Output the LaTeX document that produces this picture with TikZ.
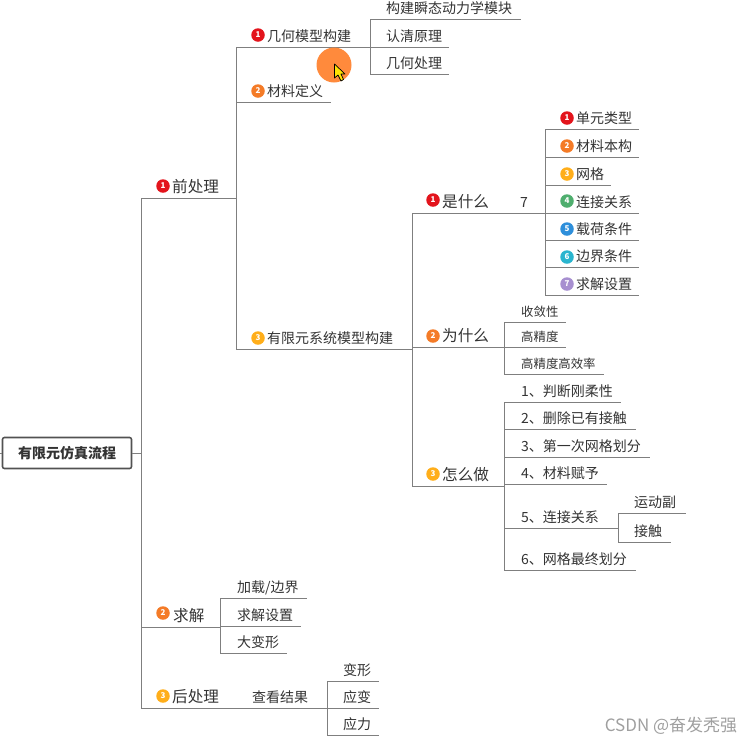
\documentclass[tikz,border=0pt]{standalone}
\usepackage{fontspec}
\setmainfont{Noto Sans CJK SC}
\usepackage{xcolor}
\usetikzlibrary{positioning}
\definecolor{MarkRed}{HTML}{e3141c}
\definecolor{MarkOrange}{HTML}{f47b27}
\definecolor{MarkYellow}{HTML}{ffae1a}
\definecolor{MarkGreen}{HTML}{4fae6e}
\definecolor{MarkBlue}{HTML}{2e8fdb}
\definecolor{MarkCyan}{HTML}{2ab5cf}
\definecolor{MarkPurple}{HTML}{a78fd0}
\definecolor{LineGray}{HTML}{7f7f7f}
\definecolor{TextDark}{HTML}{333333}
\definecolor{PointerOrange}{HTML}{ff8a3c}
\newcommand{\pad}[1]{\hspace*{#1pt}}

\begin{document}
\begin{tikzpicture}[
  x=1pt, y=-1pt,
  twig/.style={anchor=south west, inner sep=0pt, text width=#1pt, text height=13pt, text depth=5pt, align=left, text=TextDark, font=\fontsize{14}{14}\selectfont},
  leaf/.style={twig=#1, font=\fontsize{12.4}{12.4}\selectfont},
  topic/.style={twig=#1, font=\fontsize{15.6}{15.6}\selectfont},
  badge/.style={circle, inner sep=0pt, minimum size=13.5pt, text=white, font=\fontsize{8}{8}\selectfont\bfseries},
  branch/.style={draw=LineGray, line width=1pt},
  rootbox/.style={draw=TextDark!85, rounded corners=2pt, line width=1.6pt, minimum width=129pt, minimum height=31pt, inner sep=0pt, text=TextDark, font=\fontsize{14}{14}\selectfont\bfseries}
  ]
  \useasboundingbox (0,0) rectangle (754,745);
  % Root
  \node[rootbox] (root) at (67,453) {有限元仿真流程};
  \coordinate (rootjoin) at (141,453);
  % First level
  \node[topic=95] (qian) at (141,198) {\pad{31}前处理};
  \node[topic=79] (qiujie) at (141,627) {\pad{32}求解};
  \node[topic=95] (hou) at (141,708) {\pad{31}后处理};
  \node[twig=91] (chakan) at (236,708) {\pad{16}查看结果};
  \node[badge, fill=MarkRed] (qianmark) at (163,186) {1};
  \node[badge, fill=MarkOrange] (qiujiemark) at (163,613) {2};
  \node[badge, fill=MarkYellow] (houmark) at (163,696) {3};
  % Pre-processing
  \node[twig=134] (jihe) at (236,47) {\pad{31}几何模型构建};
  \node[twig=95] (cailiao) at (236,102) {\pad{31}材料定义};
  \node[twig=176] (youxian) at (236,349) {\pad{31}有限元系统模型构建};
  \node[badge, fill=MarkRed] (jihemark) at (258,35) {1};
  \node[badge, fill=MarkOrange] (cailiaomark) at (258,91) {2};
  \node[badge, fill=MarkYellow] (youxianmark) at (258,338) {3};
  % Geometry
  \node[twig=151] (goujian) at (370,19) {\pad{16}构建瞬态动力学模块};
  \node[twig=79] (renqing) at (370,47) {\pad{16}认清原理};
  \node[twig=79] (chuli) at (370,74) {\pad{16}几何处理};
  % Three questions
  \node[topic=92] (shi) at (412,213) {\pad{30}是什么};
  \node[twig=41] (seven) at (504,213) {\pad{16}7};
  \node[topic=92] (wei) at (412,347) {\pad{30}为什么};
  \node[topic=92] (zen) at (412,486) {\pad{30}怎么做};
  \node[badge, fill=MarkRed] (shimark) at (433,200) {1};
  \node[badge, fill=MarkOrange] (weimark) at (433,336) {2};
  \node[badge, fill=MarkYellow] (zenmark) at (433,474) {3};
  % What
  \node[twig=94] (danyuan) at (545,129) {\pad{31}单元类型};
  \node[twig=94] (benggou) at (545,157) {\pad{31}材料本构};
  \node[twig=66] (wangge) at (545,185) {\pad{31}网格};
  \node[twig=94] (lianjie) at (545,213) {\pad{31}连接关系};
  \node[twig=94] (zaihe) at (545,240) {\pad{31}载荷条件};
  \node[twig=94] (bianjie) at (545,267) {\pad{31}边界条件};
  \node[twig=94] (shezhi) at (545,295) {\pad{31}求解设置};
  \node[badge, fill=MarkRed] (danyuanmark) at (567,118) {1};
  \node[badge, fill=MarkOrange] (benggoumark) at (567,146) {2};
  \node[badge, fill=MarkYellow] (wanggemark) at (567,174) {3};
  \node[badge, fill=MarkGreen] (lianjiemark) at (567,201) {4};
  \node[badge, fill=MarkBlue] (zaihemark) at (567,229) {5};
  \node[badge, fill=MarkCyan] (bianjiemark) at (567,257) {6};
  \node[badge, fill=MarkPurple] (shezhimark) at (567,284) {7};
  % Why
  \node[leaf=62] (shoulian) at (504,322) {\pad{17}收敛性};
  \node[leaf=62] (gaojing) at (504,347) {\pad{17}高精度};
  \node[leaf=100] (gaoxiao) at (504,374) {\pad{17}高精度高效率};
  % How
  \node[twig=117] (panduan) at (504,402) {\pad{17}1、判断刚柔性};
  \node[twig=132] (shanchu) at (504,429) {\pad{17}2、删除已有接触};
  \node[twig=146] (diyici) at (504,457) {\pad{17}3、第一次网格划分};
  \node[twig=103] (fuyu) at (504,484) {\pad{17}4、材料赋予};
  \node[twig=114] (guanxi) at (504,528) {\pad{17}5、连接关系};
  \node[twig=132] (zuizhong) at (504,570) {\pad{17}6、网格最终划分};
  \node[twig=68] (yundong) at (618,513) {\pad{16}运动副};
  \node[twig=53] (jiechu) at (618,542) {\pad{16}接触};
  % Solve
  \node[twig=87] (jiazai) at (220,598) {\pad{17}加载/边界};
  \node[twig=81] (qiushe) at (220,626) {\pad{17}求解设置};
  \node[twig=67] (dabian) at (220,653) {\pad{17}大变形};
  % Post-processing
  \node[twig=52] (bianxing) at (327,681) {\pad{16}变形};
  \node[twig=52] (yingbian) at (327,708) {\pad{16}应变};
  \node[twig=52] (yingli) at (327,735) {\pad{16}应力};
  % Watermark
  \node[inner sep=0pt, text=gray!75, font=\fontsize{17}{17}\selectfont] (mark) at (671,726) {CSDN @奋发秃强};
  % Arrows
  \draw[branch] (root.west) -- ++(-2,0);
  \draw[branch] (root.east) -- (rootjoin);
  \draw[branch] (rootjoin) |- (qian.south east);
  \draw[branch] (rootjoin) |- (qiujie.south east);
  \draw[branch] (rootjoin) |- (hou.south east);
  \draw[branch] (hou.south east) -- (chakan.south east);
  \draw[branch] (qian.south east) |- (jihe.south east);
  \draw[branch] (qian.south east) |- (cailiao.south east);
  \draw[branch] (qian.south east) |- (youxian.south east);
  \draw[branch] (jihe.south east) |- (goujian.south east);
  \draw[branch] (jihe.south east) -- (renqing.south east);
  \draw[branch] (jihe.south east) |- (chuli.south east);
  \draw[branch] (youxian.south east) |- (shi.south east);
  \draw[branch] (youxian.south east) |- (wei.south east);
  \draw[branch] (youxian.south east) |- (zen.south east);
  \draw[branch] (shi.south east) -- (seven.south east);
  \foreach \leafname in {danyuan, benggou, wangge, lianjie, zaihe, bianjie, shezhi}
    \draw[branch] (seven.south east) |- (\leafname.south east);
  \foreach \leafname in {shoulian, gaojing, gaoxiao}
    \draw[branch] (wei.south east) |- (\leafname.south east);
  \foreach \leafname in {panduan, shanchu, diyici, fuyu, guanxi, zuizhong}
    \draw[branch] (zen.south east) |- (\leafname.south east);
  \draw[branch] (guanxi.south east) |- (yundong.south east);
  \draw[branch] (guanxi.south east) |- (jiechu.south east);
  \foreach \leafname in {jiazai, qiushe, dabian}
    \draw[branch] (qiujie.south east) |- (\leafname.south east);
  \foreach \leafname in {bianxing, yingbian, yingli}
    \draw[branch] (chakan.south east) |- (\leafname.south east);
  % Pointer
  \fill[PointerOrange] (334,65) circle (17.5);
  \draw[black, fill=yellow!85!orange, line width=0.7pt, line join=round] (334.5,64) -- (334.5,78) -- (338,75) -- (341,81) -- (343.5,79.5) -- (341,74) -- (345,74) -- cycle;
\end{tikzpicture}
\end{document}
